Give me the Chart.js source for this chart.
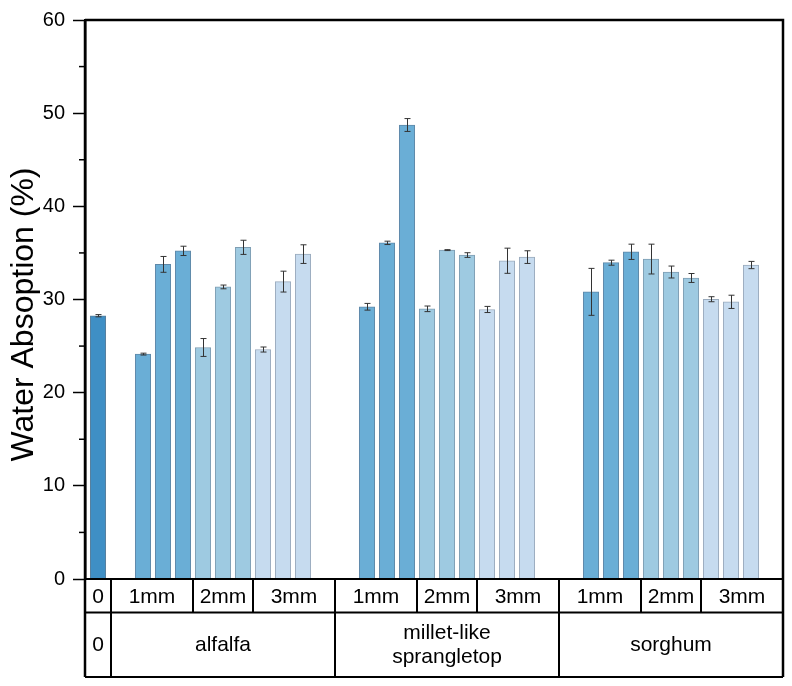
<!DOCTYPE html>
<html>
<head>
<meta charset="utf-8">
<script src="https://cdn.jsdelivr.net/npm/chart.js@4.4.1/dist/chart.umd.min.js"></script>
<style>
  html, body { margin: 0; padding: 0; background: #fff; }
  #wrap { width: 792px; height: 686px; position: relative; }
</style>
</head>
<body>
<div id="wrap"><canvas id="c" width="792" height="686"></canvas></div>
<script>
// ---------------- data ----------------
const yTitle = 'Water Absoption (%)';
const groupLabels = ['alfalfa', ['millet-like', 'sprangletop'], 'sorghum'];
const sizeLabels = ['1mm', '2mm', '3mm'];
const controlLabel = '0';
const controlMean = [28.26];
const controlErr = [0.12];
// per group: 9 values = 3 sizes x 3 replicates
const alfalfaMeans = [24.14, 33.77, 35.22, 24.85, 31.35, 35.60, 24.63, 31.92, 34.87];
const alfalfaErrs  = [0.10, 0.85, 0.50, 0.96, 0.20, 0.76, 0.27, 1.12, 1.00];
const milletMeans  = [29.22, 36.08, 48.73, 29.00, 35.30, 34.77, 28.93, 34.16, 34.55];
const milletErrs   = [0.36, 0.18, 0.69, 0.30, 0.05, 0.25, 0.33, 1.35, 0.68];
const sorghumMeans = [30.82, 33.95, 35.12, 34.34, 32.95, 32.31, 30.03, 29.75, 33.70];
const sorghumErrs  = [2.52, 0.27, 0.82, 1.60, 0.64, 0.48, 0.27, 0.71, 0.39];
const yTicks = [0, 10, 20, 30, 40, 50, 60];

// ---------------- layout (in x-axis units) ----------------
const CTRL_W = 1.3, GROUP_W = 11.2, EDGE = 1.6;
const groupMeans = [alfalfaMeans, milletMeans, sorghumMeans];
const groupErrs = [alfalfaErrs, milletErrs, sorghumErrs];
const groupStart = g => CTRL_W + GROUP_W * g;
const barX = (g, k) => groupStart(g) + EDGE + k;   // k = 0..8
const XMAX = CTRL_W + GROUP_W * 3;

const colors = ['#3f8fc5', '#6aaed6', '#9ecae1', '#c6dbef'];
const borders = ['#5a7f9c', '#5f88a8', '#7f9eb3', '#9aabbd'];

const datasets = [];
datasets.push({
  label: controlLabel,
  data: [{ x: CTRL_W / 2, y: controlMean[0] }],
  errs: controlErr,
  backgroundColor: colors[0], borderColor: borders[0], borderWidth: 1
});
for (let s = 0; s < 3; s++) {
  const data = [], errs = [];
  for (let g = 0; g < 3; g++) {
    for (let r = 0; r < 3; r++) {
      const k = s * 3 + r;
      data.push({ x: barX(g, k), y: groupMeans[g][k] });
      errs.push(groupErrs[g][k]);
    }
  }
  datasets.push({
    label: sizeLabels[s], data, errs,
    backgroundColor: colors[s + 1], borderColor: borders[s + 1], borderWidth: 1
  });
}

const FONT = "'Liberation Sans', Arial, sans-serif";
Chart.defaults.font.family = FONT;
Chart.defaults.color = '#000';

const errorBars = {
  id: 'errorBars',
  afterDatasetsDraw(chart) {
    const ctx = chart.ctx, y = chart.scales.y;
    ctx.save();
    ctx.strokeStyle = '#333';
    ctx.lineWidth = 1;
    chart.data.datasets.forEach((ds, di) => {
      const meta = chart.getDatasetMeta(di);
      meta.data.forEach((bar, i) => {
        const v = ds.data[i].y, e = ds.errs[i];
        const x = Math.round(bar.x) + 0.5;
        const y1 = y.getPixelForValue(v + e), y2 = y.getPixelForValue(v - e);
        ctx.beginPath();
        ctx.moveTo(x, y1); ctx.lineTo(x, y2);
        ctx.moveTo(x - 3, y1); ctx.lineTo(x + 3, y1);
        ctx.moveTo(x - 3, y2); ctx.lineTo(x + 3, y2);
        ctx.stroke();
      });
    });
    ctx.restore();
  }
};

const frameAndTable = {
  id: 'frameAndTable',
  afterDraw(chart) {
    const ctx = chart.ctx, xs = chart.scales.x, ys = chart.scales.y;
    const ca = chart.chartArea;
    const L = ca.left, R = ca.right, T = ca.top, B = ca.bottom;
    const row1 = B + 33.5, row2 = B + 98;
    const px = v => xs.getPixelForValue(v);
    ctx.save();
    // y-axis title
    ctx.save();
    ctx.translate(24, (T + B) / 2 + 15);
    ctx.rotate(-Math.PI / 2);
    ctx.fillStyle = '#000';
    ctx.textAlign = 'center';
    ctx.textBaseline = 'middle';
    ctx.font = '32px ' + FONT;
    ctx.fillText(yTitle, 0, 0);
    ctx.restore();
    // minor ticks
    ctx.strokeStyle = '#000';
    ctx.lineWidth = 1.5;
    for (let i = 0; i < yTicks.length - 1; i++) {
      const yy = ys.getPixelForValue((yTicks[i] + yTicks[i + 1]) / 2);
      ctx.beginPath(); ctx.moveTo(L - 6, yy); ctx.lineTo(L, yy); ctx.stroke();
    }
    // frame
    ctx.lineWidth = 2.5;
    ctx.beginPath();
    ctx.moveTo(L, T); ctx.lineTo(R, T); ctx.lineTo(R, row2);
    ctx.stroke();
    ctx.beginPath(); ctx.moveTo(L, T); ctx.lineTo(L, row2); ctx.stroke();
    // table horizontals
    ctx.lineWidth = 2;
    [B, row1, row2].forEach(yy => {
      ctx.beginPath(); ctx.moveTo(L, yy); ctx.lineTo(R, yy); ctx.stroke();
    });
    // verticals, row 2 (group boundaries, full height)
    const gb = [CTRL_W, groupStart(1), groupStart(2)];
    gb.forEach(v => {
      ctx.beginPath(); ctx.moveTo(px(v), B); ctx.lineTo(px(v), row2); ctx.stroke();
    });
    // verticals, row 1 only (size boundaries)
    for (let g = 0; g < 3; g++) {
      [4.1, 7.1].forEach(off => {
        const xx = px(groupStart(g) + off);
        ctx.beginPath(); ctx.moveTo(xx, B); ctx.lineTo(xx, row1); ctx.stroke();
      });
    }
    // texts
    ctx.fillStyle = '#000';
    ctx.textAlign = 'center';
    ctx.textBaseline = 'middle';
    ctx.font = '21px ' + FONT;
    const r1y = (B + row1) / 2 + 1, r2y = (row1 + row2) / 2;
    ctx.fillText(controlLabel, px(CTRL_W / 2), r1y);
    ctx.fillText(controlLabel, px(CTRL_W / 2), r2y);
    for (let g = 0; g < 3; g++) {
      const s0 = groupStart(g);
      const bounds = [s0, s0 + 4.1, s0 + 7.1, s0 + GROUP_W];
      for (let s = 0; s < 3; s++) {
        ctx.fillText(sizeLabels[s], (px(bounds[s]) + px(bounds[s + 1])) / 2, r1y);
      }
      const lab = groupLabels[g];
      const cx = px(s0 + GROUP_W / 2);
      if (Array.isArray(lab)) {
        ctx.fillText(lab[0], cx, r2y - 12);
        ctx.fillText(lab[1], cx, r2y + 12);
      } else {
        ctx.fillText(lab, cx, r2y);
      }
    }
    ctx.restore();
  }
};

new Chart(document.getElementById('c'), {
  type: 'bar',
  data: { datasets },
  options: {
    responsive: false,
    animation: false,
    layout: { padding: { top: 17, right: 9, bottom: 107, left: 0 } },
    plugins: { legend: { display: false }, tooltip: { enabled: false } },
    datasets: { bar: { barThickness: 15.5, grouped: false } },
    scales: {
      x: { type: 'linear', min: 0, max: XMAX, display: false, offset: false, grid: { offset: false } },
      y: {
        min: 0, max: 60,
        afterFit(s) { s.width = 85; },
        afterBuildTicks(s) { s.ticks = yTicks.map(v => ({ value: v })); },
        ticks: { font: { size: 20 }, color: '#000', padding: 8 },
        grid: { drawOnChartArea: false, drawTicks: true, tickLength: 12, tickColor: '#000', tickWidth: 1.5 },
        border: { display: true, color: '#000', width: 2.5 },
        title: { display: false }
      }
    }
  },
  plugins: [errorBars, frameAndTable]
});
</script>
</body>
</html>
